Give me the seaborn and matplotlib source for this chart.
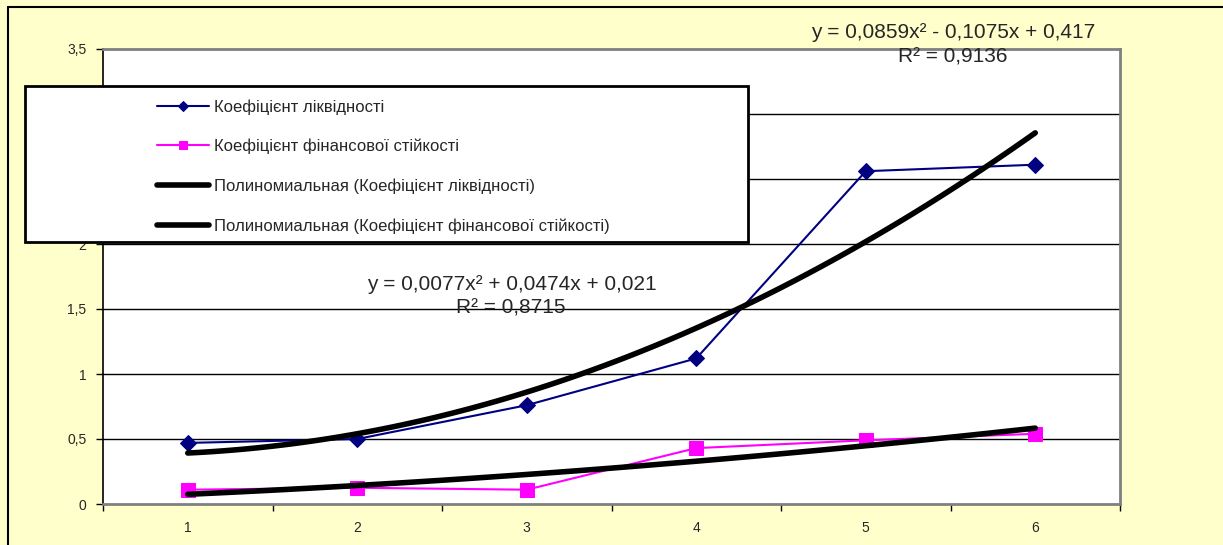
import numpy as np
import pandas as pd
import matplotlib
matplotlib.use("Agg")
import matplotlib.pyplot as plt
import seaborn as sns
from matplotlib.lines import Line2D
from matplotlib.patches import Rectangle

# data
periods = [1, 2, 3, 4, 5, 6]
liquidity = [0.47, 0.50, 0.76, 1.12, 2.56, 2.61]
stability = [0.11, 0.125, 0.11, 0.43, 0.49, 0.54]
y_ticks = [0, 0.5, 1, 1.5, 2, 2.5, 3, 3.5]
y_tick_labels = ["0", "0,5", "1", "1,5", "2", "2,5", "3", "3,5"]

label_liq = "Коефіцієнт ліквідності"
label_stab = "Коефіцієнт фінансової стійкості"
label_trend_liq = "Полиномиальная (Коефіцієнт ліквідності)"
label_trend_stab = "Полиномиальная (Коефіцієнт фінансової стійкості)"
eq_liq = ["y = 0,0859x² - 0,1075x + 0,417", "R² = 0,9136"]
eq_stab = ["y = 0,0077x² + 0,0474x + 0,021", "R² = 0,8715"]

df = pd.DataFrame({"period": periods, "liq": liquidity, "stab": stability})

sns.set_style("white")
plt.rcParams["font.family"] = ["Liberation Sans", "DejaVu Sans"]

W, H = 1223, 545
fig = plt.figure(figsize=(W / 100, H / 100), dpi=100, facecolor="#FFFFCC")
ax = fig.add_axes([103 / W, 1 - 504 / H, (1120 - 103) / W, (504 - 49) / H])
ax.set_facecolor("white")

# series
sns.lineplot(data=df, x="period", y="liq", ax=ax, color="#000080", lw=1.5,
             marker="D", markersize=8, markeredgecolor="#000080", label=label_liq)
sns.lineplot(data=df, x="period", y="stab", ax=ax, color="#FF00FF", lw=1.5,
             marker="s", markersize=10, markeredgecolor="#FF00FF", label=label_stab)

# polynomial trendlines (order 2)
sns.regplot(data=df, x="period", y="liq", ax=ax, order=2, ci=None, scatter=False,
            label=label_trend_liq, line_kws={"color": "black", "lw": 4})
sns.regplot(data=df, x="period", y="stab", ax=ax, order=2, ci=None, scatter=False,
            label=label_trend_stab, line_kws={"color": "black", "lw": 4})

ax.set_xlim(0.5, 6.5)
ax.set_ylim(0, 3.5)
ax.set_xlabel("")
ax.set_ylabel("")

ax.set_yticks(y_ticks)
ax.set_yticklabels(y_tick_labels, fontsize=10)
ax.set_xticks(np.arange(0.5, 7, 1))
ax.set_xticklabels([])
ax.set_xticks(periods, minor=True)
ax.set_xticklabels([str(p) for p in periods], minor=True, fontsize=10)
ax.tick_params(axis="x", which="major", direction="out", length=5, color="black",
               width=1, bottom=True)
ax.tick_params(axis="x", which="minor", length=0, pad=12, bottom=True)
ax.tick_params(axis="y", direction="out", length=5, color="black", width=1,
               pad=7, left=True)

for y in y_ticks[1:-1]:
    ax.axhline(y, color="black", lw=1, zorder=0.5)

for side in ["top", "right", "bottom"]:
    ax.spines[side].set_color("#808080")
    ax.spines[side].set_linewidth(2)
ax.spines["left"].set_color("black")
ax.spines["left"].set_linewidth(1.2)

# legend box
handles, labels = ax.get_legend_handles_labels()
if ax.get_legend():
    ax.get_legend().remove()
order = [labels.index(l) for l in [label_liq, label_stab, label_trend_liq, label_trend_stab]]
handles = [handles[i] for i in order]
labels = [labels[i] for i in order]

box = Rectangle((25 / W, 1 - 242 / H), (748 - 25) / W, (242 - 86) / H,
                transform=fig.transFigure, facecolor="white", edgecolor="black",
                lw=2, zorder=4)
fig.patches.append(box)
fig.legend(handles, labels, loc="upper left", bbox_to_anchor=(157 / W, 1 - 99 / H),
           frameon=False, fontsize=12, labelspacing=1.45, handlelength=3.1,
           handletextpad=0.3, borderpad=0, borderaxespad=0, markerscale=0.6)

# equations
fig.text(953 / W, 1 - 32 / H, eq_liq[0], ha="center", va="center", fontsize=15)
fig.text(953 / W, 1 - 57 / H, eq_liq[1], ha="center", va="center", fontsize=15)
fig.text(512 / W, 1 - 285 / H, eq_stab[0], ha="center", va="center", fontsize=15)
fig.text(511 / W, 1 - 308 / H, eq_stab[1], ha="center", va="center", fontsize=15)

# outer frame lines
fig.add_artist(Line2D([8 / W, 8 / W], [0, 1 - 7 / H], color="black", lw=1.5,
                      transform=fig.transFigure))
fig.add_artist(Line2D([8 / W, 1], [1 - 7 / H, 1 - 7 / H], color="black", lw=1.5,
                      transform=fig.transFigure))

fig.savefig("out.png", dpi=100, facecolor=fig.get_facecolor())
